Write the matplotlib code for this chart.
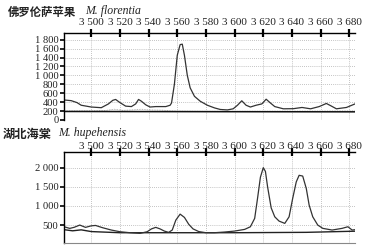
import numpy as np
import matplotlib
matplotlib.use("Agg")
import matplotlib.pyplot as plt

# 波数 (cm-1) 与吸收强度，读自原图
top_x = [3481, 3486, 3490, 3493, 3500, 3507, 3512, 3515, 3517, 3520, 3524, 3528,
         3531, 3533, 3535, 3538, 3541, 3545, 3552, 3555, 3556, 3558, 3560, 3562,
         3563.5, 3565, 3567, 3569, 3572, 3576, 3581, 3586, 3590, 3595, 3599, 3602,
         3605, 3608, 3611, 3615, 3619, 3622, 3625, 3628, 3634, 3641, 3647, 3653,
         3659, 3664, 3667, 3671, 3678, 3684]
top_y = [448, 433, 390, 330, 290, 275, 360, 440, 460, 390, 310, 300,
         360, 460, 420, 340, 290, 300, 300, 330, 380, 800, 1450, 1690,
         1700, 1450, 1000, 720, 530, 420, 330, 270, 235, 225, 250, 330,
         430, 330, 290, 330, 360, 465, 380, 300, 250, 253, 280, 250,
         300, 370, 320, 250, 280, 360]
top_base_x = [3481, 3684]
top_base_y = [190, 182]
top_faint_x = [3481, 3500, 3510, 3516, 3522, 3530, 3535, 3540, 3550, 3555, 3560,
               3580, 3600, 3640, 3684]
top_faint_y = [205, 205, 212, 240, 215, 228, 240, 225, 218, 205, 200,
               195, 195, 200, 205]

bot_x = [3481, 3485, 3488, 3492, 3496, 3500, 3503, 3508, 3514, 3520, 3527, 3534,
         3539, 3542, 3545, 3548, 3551, 3554, 3556.5, 3559, 3562, 3565, 3568,
         3571, 3575, 3580, 3586, 3593, 3600, 3607, 3611, 3614, 3616, 3618, 3620,
         3621.5, 3623, 3625.5, 3628, 3631, 3635, 3638, 3640.5, 3643, 3645,
         3647.5, 3650, 3652, 3654.5, 3658, 3661.5, 3668, 3675, 3679, 3682, 3684]
bot_y = [456, 413, 440, 500, 440, 480, 490, 430, 370, 326, 300, 283,
         326, 400, 440, 400, 343, 309, 370, 630, 786, 700, 520,
         400, 330, 300, 300, 318, 343, 387, 456, 675, 1200, 1750, 2000,
         1900, 1500, 950, 716, 604, 544, 716, 1195, 1628, 1800,
         1780, 1455, 1020, 716, 500, 414, 370, 414, 456, 370, 380]
bot_base_x = [3481, 3487, 3493, 3500, 3520, 3560, 3600, 3650, 3684]
bot_base_y = [380, 350, 375, 330, 300, 300, 300, 310, 340]

xticks = list(range(3500, 3681, 20))
top_yticks = list(range(0, 1801, 200))
bot_yticks = [500, 1000, 1500, 2000]


def fmt(v):
    return f"{v:,}".replace(",", " ")


fig = plt.figure(figsize=(3.67, 2.52), dpi=100)
serif = "Liberation Serif"
cjk = ["Noto Sans CJK SC", "DejaVu Sans"]


def setup(ax, yticks, ylim, xpad):
    ax.set_xlim(3481, 3684)
    ax.set_ylim(*ylim)
    ax.set_xticks(xticks)
    ax.set_xticklabels([fmt(v) for v in xticks], family=serif, fontsize=8)
    ax.set_yticks(yticks)
    ax.set_yticklabels([fmt(v) for v in yticks], family=serif, fontsize=7.6)
    ax.xaxis.tick_top()
    ax.tick_params(axis="x", direction="inout", length=6, width=1.6, pad=xpad,
                   colors="black", labelcolor="#222")
    ax.tick_params(axis="y", direction="out", length=3, width=1.2, pad=1,
                   labelcolor="#222")
    ax.grid(True, color="#b0b0b0", linestyle=(0, (1, 1.5)), linewidth=0.6)
    ax.spines["right"].set_visible(False)
    ax.spines["top"].set_linewidth(1.0)
    ax.spines["left"].set_linewidth(1.0)


ax1 = fig.add_axes([0.1744, 0.524, 0.793, 0.345])
setup(ax1, top_yticks, (0, 1950), 1)
ax1.spines["bottom"].set_visible(False)
ax1.plot(top_faint_x, top_faint_y, color="#9a9a9a", lw=0.6, ls=(0, (1, 1)))
ax1.plot(top_base_x, top_base_y, color="#111111", lw=1.1)
ax1.plot(top_x, top_y, color="#333333", lw=0.9)

ax2 = fig.add_axes([0.1744, 0.037, 0.793, 0.36])
setup(ax2, bot_yticks, (40, 2410), -2)
ax2.spines["bottom"].set_color("#888888")
ax2.plot(bot_base_x, bot_base_y, color="#222222", lw=1.0)
ax2.plot(bot_x, bot_y, color="#333333", lw=0.9)

fig.text(8 / 367, 1 - 12 / 252, "佛罗伦萨苹果", family=cjk, fontweight="bold",
         fontsize=8.2, va="center", ha="left", color="#222")
fig.text(85 / 367, 1 - 11 / 252, "M. florentia", family=serif, style="italic",
         fontsize=8.5, va="center", ha="left", color="#222")
fig.text(3 / 367, 1 - 134 / 252, "湖北海棠", family=cjk, fontweight="bold",
         fontsize=8.8, va="center", ha="left", color="#222")
fig.text(58 / 367, 1 - 133 / 252, "M. hupehensis", family=serif, style="italic",
         fontsize=8.5, va="center", ha="left", color="#222")

fig.savefig("out.png", dpi=100)
